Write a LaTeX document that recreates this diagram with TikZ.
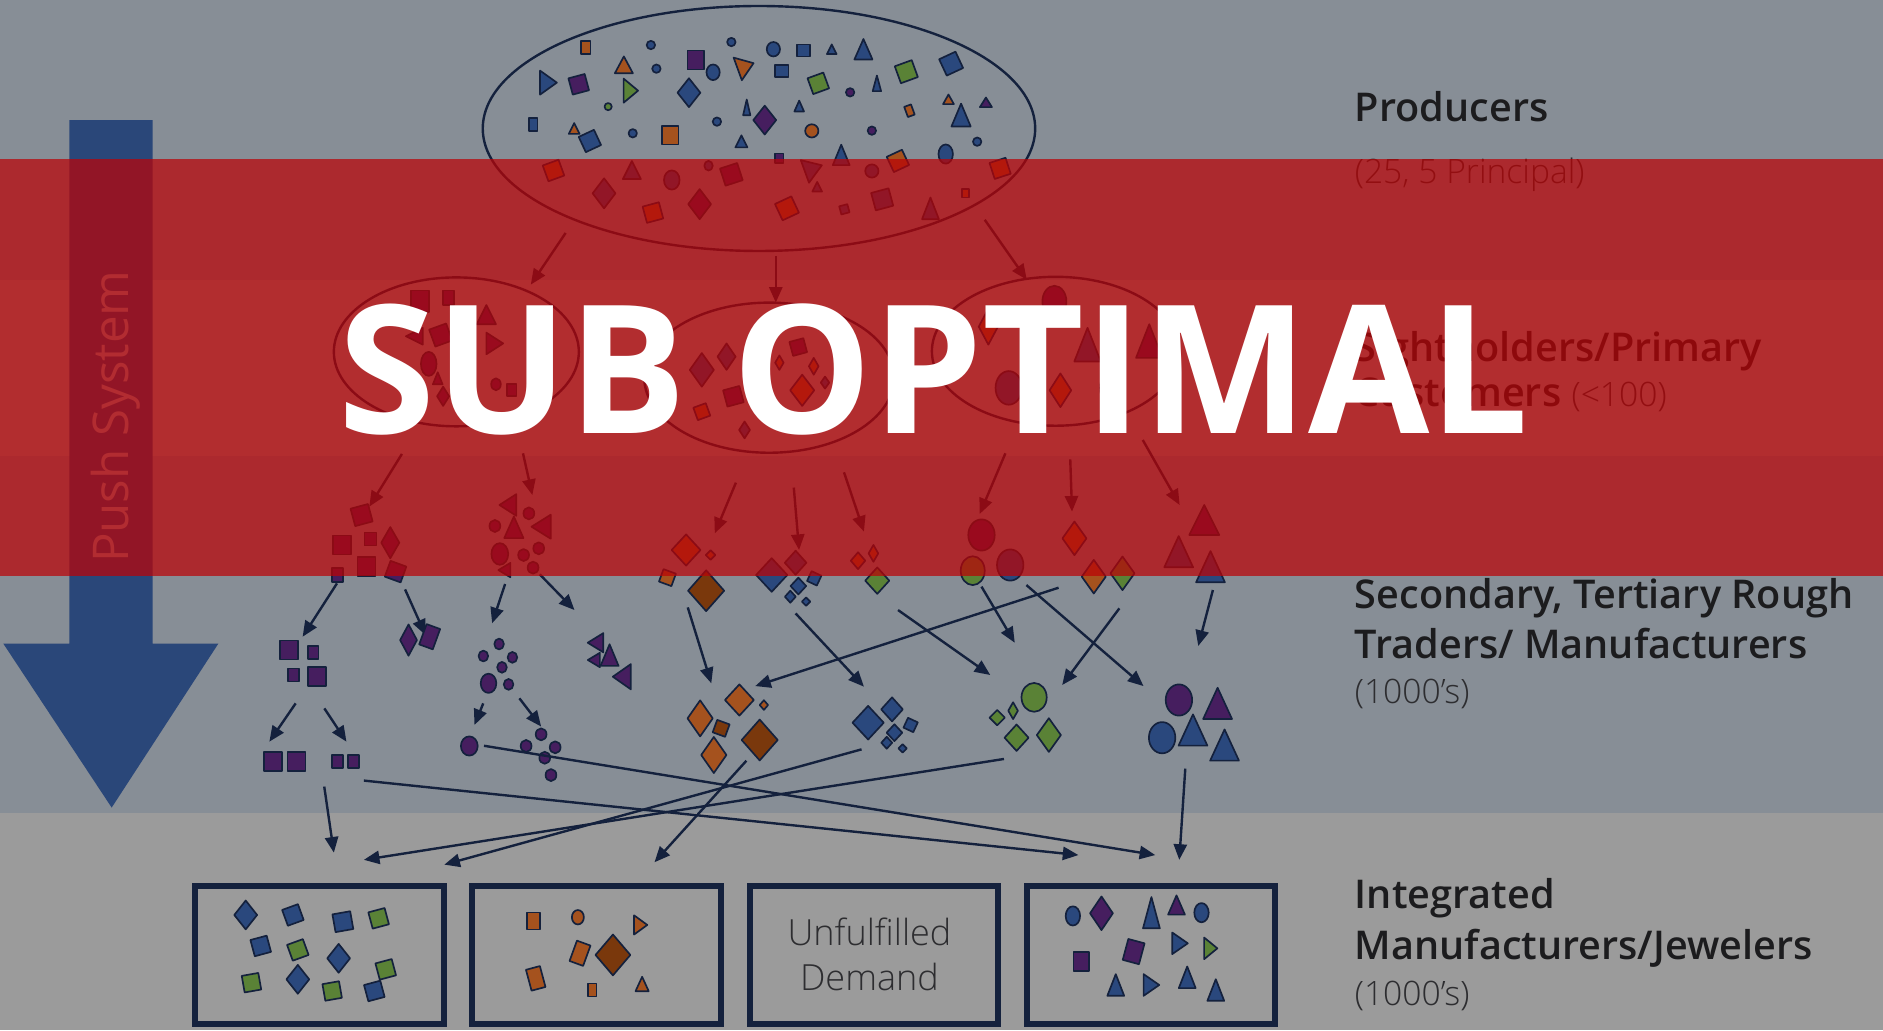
\documentclass[tikz,border=0pt]{standalone}
\usepackage{fontspec}
\usepackage{graphicx}
\usetikzlibrary{arrows.meta,shapes.geometric}
\newfontfamily\labfont{Open Sans}
\IfFontExistsTF{Open Sans SemiBold}{\newfontfamily\semifont{Open Sans SemiBold}}{%
 \IfFontExistsTF{Open Sans Semibold}{\newfontfamily\semifont{Open Sans Semibold}}{%
  \newfontfamily\semibase{Open Sans}\newcommand\semifont{\semibase\bfseries}}}
\IfFontExistsTF{Open Sans Light}{\newfontfamily\lightfont{Open Sans Light}}{%
 \IfFontExistsTF{Lato Light}{\newfontfamily\lightfont{Lato Light}}{\newfontfamily\lightfont{Open Sans}}}
\newcommand\subfont{\labfont\bfseries}
\definecolor{bandA}{RGB}{135,142,150}
\definecolor{bandB}{RGB}{155,155,155}
\definecolor{redov}{RGB}{187,3,6}
\definecolor{navy}{RGB}{20,33,61}
\definecolor{pushblue}{RGB}{42,71,121}
\definecolor{blueF}{RGB}{42,72,125}
\definecolor{purpF}{RGB}{70,30,95}
\definecolor{greenF}{RGB}{90,130,54}
\definecolor{orangeF}{RGB}{165,82,30}
\definecolor{brownF}{RGB}{122,56,12}
\definecolor{titletext}{RGB}{28,28,30}
\definecolor{subtext}{RGB}{45,45,48}
\definecolor{pushtext}{RGB}{156,153,164}
\tikzset{
 shp/.style={draw=navy, line width=1.4pt, line join=round},
 conn/.style={draw=navy, line width=2pt, -{Triangle[length=13pt,width=11pt]}},
 ring/.style={draw=navy, line width=2pt},
 boxs/.style={draw=navy, line width=5pt, minimum width=207pt, minimum height=115pt, inner sep=0pt},
 lab/.style={inner sep=0pt, anchor=base west, text=titletext},
}
\newcommand\shpRect[6]{\draw[shp,fill=#6,shift={(#1,#2)},rotate=#5] (-#3/2,-#4/2) -- (#3/2,-#4/2) -- (#3/2,#4/2) -- (-#3/2,#4/2) -- cycle;}
\newcommand\shpSq[5]{\shpRect{#1}{#2}{#3}{#3}{#4}{#5}}
\newcommand\shpDia[5]{\draw[shp,fill=#5,shift={(#1,#2)}] (-#3/2,0) -- (0,-#4/2) -- (#3/2,0) -- (0,#4/2) -- cycle;}
\newcommand\shpTri[6]{\draw[shp,fill=#6,shift={(#1,#2)},rotate=#5] (-#3/2,#4/2) -- (0,-#4/2) -- (#3/2,#4/2) -- cycle;}
\newcommand\shpEl[5]{\draw[shp,fill=#5] (#1,#2) ellipse [x radius=#3, y radius=#4];}
\newcommand\conx[3]{\coordinate (#1s) at (#2); \coordinate (#1e) at (#3); \draw[conn] (#1s) -- (#1e);}
\begin{document}
\begin{tikzpicture}[x=1pt,y=-1pt]
\useasboundingbox (0,0) rectangle (1568,858);
% bands
\fill[bandA] (0,0) rectangle (1568,233);
\fill[bandB] (0,233) rectangle (1568,380);
\fill[bandA] (0,380) rectangle (1568,677);
\fill[bandB] (0,677) rectangle (1568,858);
% push arrow
\fill[pushblue] (57.7,100) -- (127,100) -- (127,536) -- (181.8,536) -- (93,672.5) -- (2.8,536) -- (57.7,536) -- cycle;
\node[rotate=90, anchor=base, inner sep=0pt, text=pushtext, font=\labfont\fontsize{41}{41}\selectfont] (push) at (107,347) {Push System};
% producers ellipse
\node[ring, ellipse, minimum width=460pt, minimum height=204pt, inner sep=0pt] (prod) at (632,107) {};
\shpRect{487.6}{39.7}{8}{11}{0}{orangeF}
\shpEl{542}{37.5}{3.5}{3.5}{blueF}
\shpEl{609}{35}{3.5}{3.5}{blueF}
\shpEl{644}{41}{5.5}{6}{blueF}
\shpRect{669}{42}{11}{10}{0}{blueF}
\shpTri{692.6}{41}{8}{8}{0}{blueF}
\shpTri{719}{41}{15}{17}{0}{blueF}
\shpSq{792}{53}{15}{25}{blueF}
\shpTri{456.7}{68.8}{20}{14}{-90}{blueF}
\shpSq{481.9}{70.2}{14}{15}{purpF}
\shpTri{519.5}{54}{15}{14}{0}{orangeF}
\shpEl{546.6}{57.2}{3.5}{3.5}{blueF}
\shpRect{579.4}{50}{14}{16}{0}{purpF}
\shpEl{593.8}{60.2}{5.5}{6.5}{blueF}
\shpTri{620.9}{55}{20}{14}{-70}{orangeF}
\shpRect{651.1}{58.9}{11}{10}{0}{blueF}
\shpSq{681.4}{69.4}{14}{20}{greenF}
\shpTri{730.2}{69.4}{7}{13}{0}{blueF}
\shpSq{754.7}{59.7}{15}{20}{greenF}
\shpTri{525.3}{75.5}{20}{12}{-90}{greenF}
\shpDia{573.7}{77.2}{19}{24}{blueF}
\shpEl{707.9}{76.9}{3.5}{3.5}{purpF}
\shpRect{757.3}{92.2}{6}{9}{20}{orangeF}
\shpTri{789.8}{82.7}{9}{8}{0}{orangeF}
\shpTri{821}{85.2}{10}{8}{0}{purpF}
\shpTri{800.3}{95.8}{16}{19}{0}{blueF}
\shpEl{506.4}{88.8}{3}{3}{greenF}
\shpTri{621.8}{89.4}{6}{13}{0}{blueF}
\shpDia{636.8}{100}{19}{24}{purpF}
\shpTri{665.5}{88.3}{8}{9}{0}{blueF}
\shpRect{444}{103.5}{7}{11}{0}{blueF}
\shpTri{478.1}{107}{9}{9}{0}{orangeF}
\shpSq{491.2}{117.4}{14}{25}{blueF}
\shpEl{526.9}{111}{3.5}{3.5}{blueF}
\shpRect{558.1}{112.7}{14}{15}{0}{orangeF}
\shpEl{597}{101.3}{3.5}{3.5}{blueF}
\shpTri{617.4}{117.7}{10}{10}{0}{blueF}
\shpEl{676}{109}{5.5}{5.5}{orangeF}
\shpEl{726}{108.8}{3.5}{3.5}{purpF}
\shpEl{813.7}{118}{3.5}{3.5}{blueF}
\shpEl{787.5}{128.3}{6}{8}{blueF}
\shpTri{700.5}{129}{14}{17}{0}{blueF}
\shpSq{747.7}{134}{14}{25}{orangeF}
\shpRect{649}{131.9}{7}{8}{0}{purpF}
\shpSq{460.9}{142}{14}{20}{orangeF}
\shpTri{526.2}{141.6}{15}{15}{0}{blueF}
\shpEl{559.4}{149.9}{6.5}{8}{blueF}
\shpEl{590}{138}{3.5}{4}{blueF}
\shpSq{609}{145.2}{15}{18}{purpF}
\shpDia{503}{161}{19}{25}{blueF}
\shpSq{543.7}{177}{14}{15}{orangeF}
\shpDia{582.6}{170}{19}{25}{purpF}
\shpTri{677.3}{140.2}{20}{15}{-70}{blueF}
\shpTri{680.5}{155.5}{8}{8}{0}{blueF}
\shpEl{726}{142.4}{5.5}{5.5}{blueF}
\shpSq{655.3}{173.5}{15}{25}{orangeF}
\shpSq{703.1}{174.3}{7}{15}{blueF}
\shpSq{734.6}{166}{15}{15}{blueF}
\shpRect{804.1}{161}{6}{7}{0}{orangeF}
\shpTri{774.8}{173.5}{14}{18}{0}{blueF}
\shpSq{832.8}{140.2}{14}{18}{orangeF}
\conx{a1}{471,194}{442,237}
\conx{a2}{646,213}{646,252}
\conx{a3}{820,183}{855,233}
% second level ellipses
\node[ring, ellipse, minimum width=204pt, minimum height=124pt, inner sep=0pt] (sh1) at (380,293) {};
\node[ring, ellipse, minimum width=208pt, minimum height=125pt, inner sep=0pt] (sh2) at (640.5,314.5) {};
\node[ring, ellipse, minimum width=206pt, minimum height=124pt, inner sep=0pt] (sh3) at (879,292.5) {};
\shpRect{350}{251}{15}{18}{0}{purpF}
\shpRect{373.6}{248}{9}{12}{0}{purpF}
\shpTri{405}{262}{16}{16}{0}{purpF}
\shpSq{367}{279}{15}{20}{purpF}
\shpTri{345}{280}{14}{14}{90}{purpF}
\shpTri{412}{286}{18}{14}{-90}{purpF}
\shpEl{357}{303}{6.5}{10}{purpF}
\shpTri{364.5}{315}{8}{10}{0}{purpF}
\shpEl{413}{320}{4}{5}{purpF}
\shpDia{369}{330}{10}{16}{purpF}
\shpRect{426}{325}{8}{10}{0}{purpF}
\shpDia{584.4}{308}{20}{28}{blueF}
\shpDia{605}{297}{15}{22}{blueF}
\shpDia{649}{302}{7}{12}{orangeF}
\shpSq{664.7}{289}{12}{15}{purpF}
\shpDia{677.6}{305}{8}{14}{orangeF}
\shpDia{668}{325}{20}{26}{orangeF}
\shpDia{687}{318.6}{7}{10}{blueF}
\shpSq{610.7}{330}{14}{15}{purpF}
\shpSq{584.4}{342.8}{11}{20}{orangeF}
\shpDia{620}{358}{9}{14}{blueF}
\shpEl{878}{251}{10}{13}{purpF}
\shpDia{823}{272}{16}{30}{orangeF}
\shpTri{905.6}{287}{22}{28}{0}{blueF}
\shpTri{957}{284}{22}{28}{0}{purpF}
\shpEl{840}{323}{11}{14}{blueF}
\shpDia{883}{325}{18}{28}{orangeF}
\shpEl{926}{323}{10}{14}{greenF}
\conx{b1}{334.7,378}{307.5,421.9}
\conx{b2}{435.5,377.5}{443.3,412.2}
\conx{b3}{612.8,401.9}{595.2,444.1}
\conx{b4}{661,406}{665.4,458}
\conx{b5}{702.8,393.3}{719.4,442.7}
\conx{b6}{837.2,377.5}{815.8,428}
\conx{b7}{891.2,382.5}{892.7,426}
\conx{b8}{951.6,366.4}{982.3,420.5}
% third level groups
\shpSq{301.1}{428.9}{15}{15}{purpF}
\shpRect{284.7}{453.8}{15}{16}{0}{purpF}
\shpRect{308.4}{448.8}{10}{11}{0}{purpF}
\shpDia{325}{451.9}{15}{26}{purpF}
\shpRect{305.2}{471.9}{15}{16}{0}{purpF}
\shpRect{281.2}{478.8}{9}{12}{0}{purpF}
\shpSq{329.4}{476}{14}{-20}{purpF}
\shpTri{422.9}{420.5}{18}{14}{90}{purpF}
\shpEl{440.4}{427.5}{4.5}{5}{purpF}
\shpEl{412.1}{438}{4.5}{5}{purpF}
\shpTri{427.9}{439.1}{16}{18}{0}{purpF}
\shpTri{450.6}{438.6}{20}{16}{90}{purpF}
\shpEl{416.2}{461.3}{7}{9}{purpF}
\shpEl{436}{462.2}{4.5}{5}{purpF}
\shpEl{448.6}{456.6}{4.5}{5}{purpF}
\shpTri{420}{474.7}{12}{10}{90}{purpF}
\shpEl{443.9}{472.7}{4.5}{5}{purpF}
\shpDia{571.3}{458}{24}{26}{orangeF}
\shpDia{591.7}{462.2}{8}{8}{orangeF}
\shpSq{555.8}{481}{11}{-20}{orangeF}
\shpDia{588}{491.9}{30}{34}{brownF}
\shpDia{642.6}{478.8}{26}{28}{blueF}
\shpDia{662.5}{468.6}{18}{20}{blueF}
\shpDia{664.8}{488}{13}{14}{blueF}
\shpSq{678}{481.6}{9}{-25}{blueF}
\shpDia{658.1}{496.9}{9}{10}{blueF}
\shpDia{671.2}{501}{7}{7}{blueF}
\shpDia{714.5}{466.9}{12}{14}{orangeF}
\shpDia{727.3}{460.8}{8}{14}{orangeF}
\shpDia{730.5}{483.5}{20}{22}{greenF}
\shpEl{817.3}{445.5}{11}{13}{purpF}
\shpEl{810}{475.2}{10}{12}{greenF}
\shpEl{841.2}{470.5}{11}{13}{blueF}
\shpDia{894.7}{448.3}{20}{28}{orangeF}
\shpDia{910.8}{480.2}{20}{28}{orangeF}
\shpDia{934.7}{477.4}{20}{28}{greenF}
\shpTri{1002.8}{433}{25}{25}{0}{purpF}
\shpTri{981.5}{459.4}{24}{26}{0}{blueF}
\shpTri{1008}{471.9}{24}{26}{0}{blueF}
\conx{c1}{280.6,485.8}{252,530.2}
\conx{c2}{337.3,490.8}{354.3,528.8}
\conx{c3}{420.6,486.3}{409.8,519}
\conx{c4}{449.5,478.3}{478.4,508}
\conx{c5}{572.7,505.8}{592.3,569}
\conx{c6}{662.5,510.8}{719.4,571.8}
\conx{c7}{747.8,508}{824.6,562.1}
\conx{c8}{817.3,488.5}{845,535.2}
\conx{c9}{854.7,487.2}{952.2,571.3}
\conx{c10}{881.5,489.4}{628.9,571.3}
\conx{c11}{932.1,506.6}{884.5,570.4}
\conx{c12}{1010,491.3}{997.8,537.9}
% fourth level groups
\shpRect{240.9}{541.3}{15}{16}{0}{purpF}
\shpRect{260.8}{543.5}{9}{11}{0}{purpF}
\shpRect{244.4}{562.1}{9}{11}{0}{purpF}
\shpRect{263.7}{563.5}{15}{16}{0}{purpF}
\shpDia{340.2}{533}{14}{26}{purpF}
\shpRect{357.8}{530.2}{12}{18}{-20}{purpF}
\shpEl{415.6}{536.3}{4}{4.5}{purpF}
\shpEl{402.5}{546.3}{4}{4.5}{purpF}
\shpEl{426.7}{547.4}{4}{4.5}{purpF}
\shpEl{418}{555.7}{4}{4.5}{purpF}
\shpEl{406.8}{569}{6.5}{8}{purpF}
\shpEl{423.5}{569.9}{4}{4.5}{purpF}
\shpTri{495.9}{535.2}{16}{13}{90}{purpF}
\shpTri{507.6}{545.5}{15}{18}{0}{purpF}
\shpTri{494.5}{549.6}{12}{10}{90}{purpF}
\shpTri{517.8}{563.5}{21}{15}{90}{purpF}
\shpDia{615.7}{582.9}{24}{26}{orangeF}
\shpDia{636.1}{587.1}{7}{8}{orangeF}
\shpDia{583}{598.2}{21}{30}{orangeF}
\shpSq{600.5}{606.5}{11}{-20}{brownF}
\shpDia{632.6}{616.2}{30}{34}{brownF}
\shpDia{594.4}{628.7}{21}{30}{orangeF}
\shpDia{722.9}{601.8}{26}{28}{blueF}
\shpDia{742.8}{590.7}{18}{20}{blueF}
\shpDia{744.8}{610.1}{13}{14}{blueF}
\shpSq{758.3}{603.7}{9}{-25}{blueF}
\shpDia{738.4}{618.5}{9}{10}{blueF}
\shpDia{751.6}{623.2}{7}{7}{blueF}
\shpEl{861.1}{580.7}{10.5}{12}{greenF}
\shpSq{830.4}{597.6}{9}{45}{greenF}
\shpDia{843.6}{591.8}{8}{14}{greenF}
\shpDia{846.5}{614.3}{20}{22}{greenF}
\shpDia{873.4}{612.1}{20}{28}{greenF}
\shpEl{981.7}{582.9}{11}{13}{purpF}
\shpTri{1013.9}{585.7}{24}{26}{0}{purpF}
\shpEl{967.7}{614.3}{11}{13}{blueF}
\shpTri{993.4}{607.9}{24}{26}{0}{blueF}
\shpTri{1019.7}{620.4}{24}{26}{0}{blueF}
\conx{d1}{246.2,585.7}{224.3,617.6}
\conx{d2}{270.1,589.9}{288.5,617.6}
\conx{d3}{402.4,585.7}{395.1,603.7}
\conx{d4}{432.5,581.5}{450.6,605}
% fifth level
\shpRect{227.5}{634.3}{15}{16}{0}{purpF}
\shpRect{246.8}{634.3}{15}{16}{0}{purpF}
\shpRect{281.2}{634.3}{9}{11}{0}{purpF}
\shpRect{294.4}{634.3}{9}{11}{0}{purpF}
\shpEl{390.8}{621.2}{7}{8}{purpF}
\shpEl{450.6}{611.5}{4.5}{5}{purpF}
\shpEl{438.1}{621.2}{4.5}{5}{purpF}
\shpEl{462.3}{622.3}{4.5}{5}{purpF}
\shpEl{453.6}{631}{4.5}{5}{purpF}
\shpEl{458.8}{645.4}{4.5}{5}{purpF}
% connectors to the boxes
\conx{e1}{270,655}{278,710}
\conx{e2}{303,650}{898,712}
\conx{e3}{403,621}{962,712}
\conx{e4}{717.4,624}{370,720}
\conx{e5}{836,632}{303,716}
\conx{e6}{621.5,633.5}{545,718}
\conx{e7}{987,640}{982,716}
% boxes
\node[boxs] (box1) at (266.2,795) {};
\node[boxs] (box2) at (496.9,795) {};
\node[boxs] (box3) at (727.8,795) {};
\node[boxs] (box4) at (958.5,795) {};
\shpDia{204.6}{761.9}{19}{24}{blueF}
\shpSq{243.9}{761.9}{14}{20}{blueF}
\shpSq{285.5}{767.5}{15}{10}{blueF}
\shpSq{315.3}{764.7}{14}{15}{greenF}
\shpSq{217.1}{787.7}{14}{15}{blueF}
\shpSq{248}{791}{14}{20}{greenF}
\shpDia{282}{798}{19}{24}{blueF}
\shpSq{321.2}{807.2}{14}{15}{greenF}
\shpSq{209.4}{818.3}{14}{10}{greenF}
\shpDia{248}{815.5}{19}{24}{blueF}
\shpSq{276.6}{825.2}{14}{10}{greenF}
\shpSq{311.7}{825.2}{14}{15}{blueF}
\shpRect{444.3}{766.9}{11}{14}{0}{orangeF}
\shpEl{481.2}{763.8}{5}{6}{orangeF}
\shpTri{533.5}{770.2}{16}{11}{-90}{orangeF}
\shpRect{483}{793.8}{12}{18}{-20}{orangeF}
\shpDia{510.4}{795.2}{29}{34}{brownF}
\shpRect{446.1}{814.7}{12}{18}{15}{orangeF}
\shpRect{493.1}{824.4}{7}{11}{0}{orangeF}
\shpTri{534.7}{819.4}{11}{12}{0}{orangeF}
\node[inner sep=0pt, anchor=base, text=subtext, font=\lightfont\fontsize{30}{30}\selectfont] (uf1) at (724,787.7) {Unfulfilled};
\node[inner sep=0pt, anchor=base, text=subtext, font=\lightfont\fontsize{30}{30}\selectfont] (uf2) at (724,825) {Demand};
\shpEl{893.4}{762.7}{6}{8}{blueF}
\shpDia{917.2}{760.5}{19}{28}{purpF}
\shpTri{958.8}{760}{14}{26}{0}{blueF}
\shpTri{979.7}{753.6}{14}{16}{0}{purpF}
\shpEl{1000.5}{760}{6}{8}{blueF}
\shpRect{900.5}{800.8}{13}{16}{0}{purpF}
\shpRect{944}{792.4}{14}{18}{-15}{purpF}
\shpTri{982.6}{785.5}{18}{13}{-90}{blueF}
\shpTri{1008.2}{789.7}{18}{11}{-90}{greenF}
\shpTri{929.1}{820.2}{14}{18}{0}{blueF}
\shpTri{958.8}{820.2}{18}{13}{-90}{blueF}
\shpTri{988.6}{813.8}{14}{18}{0}{blueF}
\shpTri{1012.4}{824.4}{14}{18}{0}{blueF}
% labels
\node[lab, font=\semifont\fontsize{33}{33}\selectfont] (l1) at (1128,101.5) {Producers};
\node[lab, text=subtext, font=\lightfont\fontsize{28}{28}\selectfont] (l1s) at (1128,153) {(25, 5 Principal)};
\node[lab, font=\semifont\fontsize{33}{33}\selectfont] (l2) at (1128,301) {Sightholders/Primary};
\node[lab, font=\semifont\fontsize{33}{33}\selectfont] (l2b) at (1128,338.6) {Customers {\lightfont\fontsize{28}{28}\selectfont\color{subtext} (<100)}};
\node[lab, font=\semifont\fontsize{33}{33}\selectfont] (l3) at (1128,506.6) {Secondary, Tertiary Rough};
\node[lab, font=\semifont\fontsize{33}{33}\selectfont] (l3b) at (1128,548.2) {Traders/ Manufacturers};
\node[lab, text=subtext, font=\lightfont\fontsize{28}{28}\selectfont] (l3s) at (1128,585.7) {(1000’s)};
\node[lab, font=\semifont\fontsize{33}{33}\selectfont] (l4) at (1128,756.4) {Integrated};
\node[lab, font=\semifont\fontsize{33}{33}\selectfont] (l4b) at (1128,798.8) {Manufacturers/Jewelers};
\node[lab, text=subtext, font=\lightfont\fontsize{28}{28}\selectfont] (l4s) at (1128,836.9) {(1000’s)};
% red overlay
\fill[redov, opacity=0.72] (0,132) rectangle (1568,480);
% stamp
\node[anchor=south west, inner sep=0pt, text=white] (subopt) at (282,363) {\resizebox{991pt}{108pt}{\subfont SUB OPTIMAL}};
\end{tikzpicture}
\end{document}
